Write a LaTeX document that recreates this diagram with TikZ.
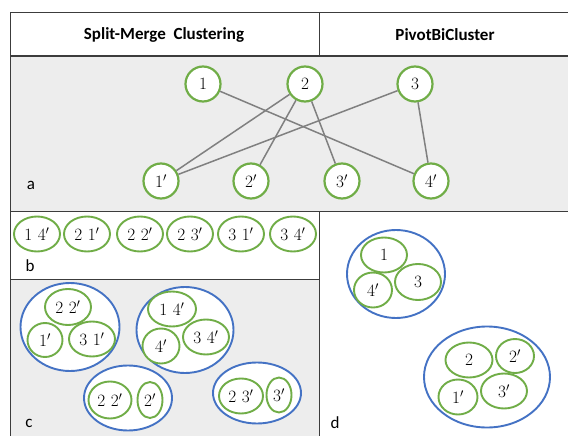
\documentclass[tikz,border=0pt]{standalone}
\usepackage{fontspec}
\setsansfont{Carlito}
\usepackage{tikz}
\usetikzlibrary{shapes.geometric}

\definecolor{grn}{HTML}{70AD47}
\definecolor{blu}{HTML}{4472C4}
\definecolor{rowgray}{HTML}{EDEDED}
\definecolor{rule}{HTML}{3C3C3C}
\definecolor{edgegray}{HTML}{808080}

\newcommand{\numfont}{\fontsize{18}{20}\selectfont}

\begin{document}
\begin{tikzpicture}[
  x=1pt, y=-1pt,
  vert/.style={circle, draw=grn, line width=2.2pt, fill=white,
               minimum size=35, inner sep=0pt, font=\numfont},
  pair/.style={ellipse, draw=grn, line width=1.9pt, fill=white,
               inner sep=0pt, font=\numfont},
  clus/.style={ellipse, draw=blu, line width=1.9pt, fill=white, inner sep=0pt},
  link/.style={draw=edgegray, line width=1.5pt},
  head/.style={font=\sffamily\bfseries\fontsize{17}{19}\selectfont},
  tag/.style={font=\sffamily\fontsize{17}{19}\selectfont}
]
  \useasboundingbox (0,0) rectangle (568,436);

  % table background and rules
  \fill[rowgray] (10,56) rectangle (568,211);
  \fill[rowgray] (10,279) rectangle (319,436);
  \draw[rule, line width=1pt] (10,13) -- (568,13);
  \draw[rule, line width=1pt] (10,13) -- (10,436);
  \draw[rule, line width=1.2pt] (10,56) -- (568,56);
  \draw[rule, line width=1pt] (319,13) -- (319,56);
  \draw[rule, line width=1pt] (10,211) -- (568,211);
  \draw[rule, line width=1pt] (319,211) -- (319,436);
  \draw[rule, line width=1pt] (10,279) -- (319,279);

  \node[head] (hsplit) at (164,35) {Split-Merge\ \ Clustering};
  \node[head] (hpivot) at (445,35) {PivotBiCluster};

  % a: bipartite graph
  \node[vert] (n1) at (203,84) {$1$};
  \node[vert] (n2) at (305,84) {$2$};
  \node[vert] (n3) at (415,84) {$3$};
  \node[vert] (p1) at (161,181) {$1'$};
  \node[vert] (p2) at (251,181) {$2'$};
  \node[vert] (p3) at (342,181) {$3'$};
  \node[vert] (p4) at (431,181) {$4'$};

  \draw[link] (n1) -- (p4);
  \draw[link] (n2) -- (p1);
  \draw[link] (n2) -- (p2);
  \draw[link] (n2) -- (p3);
  \draw[link] (n3) -- (p1);
  \draw[link] (n3) -- (p4);
  \node[tag] (la) at (31,185) {a};

  % b: pairs from the split step
  \node[pair, minimum width=46, minimum height=35] (b14) at (37,234) {$1\ 4'$};
  \node[pair, minimum width=46, minimum height=35] (b21) at (87,234) {$2\ 1'$};
  \node[pair, minimum width=46, minimum height=35] (b22) at (140,234) {$2\ 2'$};
  \node[pair, minimum width=46, minimum height=35] (b23) at (190,234) {$2\ 3'$};
  \node[pair, minimum width=46, minimum height=35] (b31) at (241,234) {$3\ 1'$};
  \node[pair, minimum width=46, minimum height=35] (b34) at (293,234) {$3\ 4'$};
  \node[tag] (lb) at (30,266) {b};

  % c: merged clusters
  \node[clus, minimum width=99, minimum height=88] (ca) at (70,327) {};
  \node[clus, minimum width=97, minimum height=86] (cb) at (185,330) {};
  \node[clus, minimum width=88, minimum height=65] (cc) at (128,398) {};
  \node[clus, minimum width=88, minimum height=61] (cd) at (257,393) {};

  \node[pair, minimum width=46, minimum height=36] (ca22) at (68,307) {$2\ 2'$};
  \node[pair, minimum width=35, minimum height=34] (ca1) at (45,340) {$1'$};
  \node[pair, minimum width=46, minimum height=35] (ca31) at (92,339) {$3\ 1'$};

  \node[pair, minimum width=48, minimum height=35] (cb14) at (172,309) {$1\ 4'$};
  \node[pair, minimum width=37, minimum height=35] (cb4) at (161,346) {$4'$};
  \node[pair, minimum width=46, minimum height=35] (cb34) at (206,337) {$3\ 4'$};

  \node[pair, minimum width=43, minimum height=37] (cc22) at (110,400) {$2\ 2'$};
  \node[pair, minimum width=25, minimum height=36] (cc2) at (150,400) {$2'$};

  \node[pair, minimum width=44, minimum height=35] (cd23) at (241,396) {$2\ 3'$};
  \node[pair, minimum width=25, minimum height=35] (cd3) at (279,395) {$3'$};
  \node[tag] (lc) at (29,423) {c};

  % d: pivot clusters
  \node[clus, minimum width=98, minimum height=88] (da) at (396,274) {};
  \node[clus, minimum width=126, minimum height=101] (db) at (487,377) {};

  \node[pair, minimum width=46, minimum height=35] (da1) at (384,255) {$1$};
  \node[pair, minimum width=38, minimum height=35] (da4) at (373,290) {$4'$};
  \node[pair, minimum width=46, minimum height=36] (da3) at (418,282) {$3$};

  \node[pair, minimum width=47, minimum height=35] (db2) at (469,360) {$2$};
  \node[pair, minimum width=38, minimum height=34] (db2p) at (515,356) {$2'$};
  \node[pair, minimum width=39, minimum height=35] (db1) at (458,397) {$1'$};
  \node[pair, minimum width=46, minimum height=35] (db3) at (504,391) {$3'$};
  \node[tag] (ld) at (335,423) {d};
\end{tikzpicture}
\end{document}
